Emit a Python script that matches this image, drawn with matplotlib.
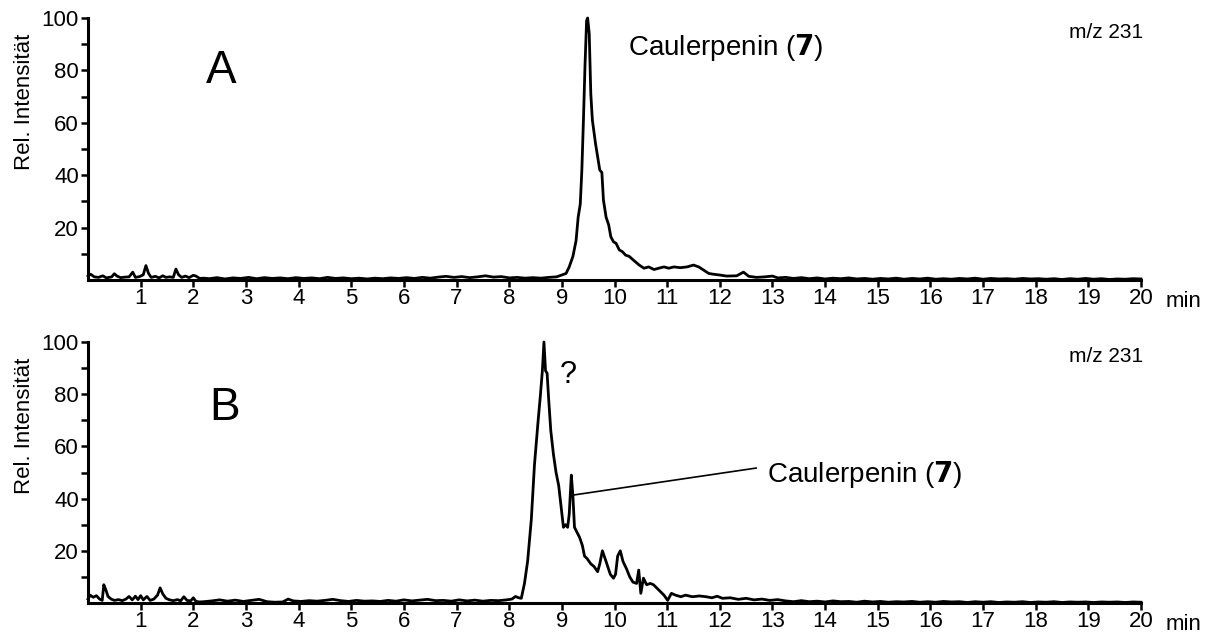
import matplotlib
matplotlib.use("Agg")
from matplotlib import pyplot as plt

plt.rcParams['font.family'] = ['Liberation Sans', 'DejaVu Sans']

# Chromatogram A (m/z 231), retention time in min / rel. intensity in %
time_a = [0.0, 0.05, 0.12, 0.2, 0.28, 0.35, 0.45, 0.5, 0.55, 0.62,
          0.7, 0.78, 0.85, 0.9, 0.98, 1.05, 1.1, 1.15, 1.2, 1.28,
          1.35, 1.42, 1.48, 1.55, 1.62, 1.67, 1.72, 1.78, 1.85, 1.92,
          2.0, 2.05, 2.12, 2.2, 2.3, 2.45, 2.6, 2.75, 2.9, 3.05,
          3.2, 3.35, 3.5, 3.65, 3.8, 3.95, 4.1, 4.25, 4.4, 4.55,
          4.7, 4.85, 5.0, 5.15, 5.3, 5.45, 5.6, 5.75, 5.9, 6.05,
          6.2, 6.35, 6.5, 6.65, 6.8, 6.95, 7.1, 7.25, 7.4, 7.55,
          7.7, 7.85, 8.0, 8.15, 8.3, 8.45, 8.6, 8.75, 8.9, 9.0,
          9.08, 9.14, 9.21, 9.27, 9.31, 9.35, 9.38, 9.41, 9.44, 9.47,
          9.49, 9.52, 9.55, 9.58, 9.64, 9.68, 9.72, 9.76, 9.79, 9.84,
          9.89, 9.93, 9.98, 10.03, 10.09, 10.15, 10.21, 10.28, 10.37, 10.47,
          10.56, 10.65, 10.75, 10.84, 10.94, 11.03, 11.13, 11.25, 11.38, 11.5,
          11.6, 11.69, 11.79, 11.88, 12.0, 12.13, 12.32, 12.45, 12.55, 12.7,
          12.85, 13.0, 13.1, 13.25, 13.4, 13.55, 13.7, 13.85, 14.0, 14.15,
          14.3, 14.45, 14.6, 14.75, 14.9, 15.05, 15.2, 15.35, 15.5, 15.65,
          15.8, 15.95, 16.1, 16.25, 16.4, 16.55, 16.7, 16.85, 17.0, 17.15,
          17.3, 17.45, 17.6, 17.75, 17.9, 18.05, 18.2, 18.35, 18.5, 18.65,
          18.8, 18.95, 19.1, 19.25, 19.4, 19.55, 19.7, 19.85, 20.0]
rel_a = [1.5, 2.2, 1.2, 1.0, 1.6, 0.8, 1.2, 2.4, 1.5, 0.9,
         1.1, 1.2, 3.0, 1.0, 1.3, 2.0, 5.5, 2.5, 1.0, 1.4,
         0.8, 1.6, 1.0, 1.2, 1.0, 4.2, 2.0, 1.0, 1.5, 0.9,
         1.8, 1.5, 0.6, 0.7, 0.5, 0.9, 0.4, 0.8, 0.6, 1.0,
         0.5, 0.9, 0.6, 0.8, 0.5, 0.9, 0.6, 0.8, 0.5, 1.0,
         0.6, 0.8, 0.5, 0.7, 0.4, 0.7, 0.5, 0.8, 0.6, 0.9,
         0.6, 1.0, 0.7, 1.1, 1.4, 1.0, 1.3, 0.9, 1.2, 1.6,
         1.1, 1.3, 0.8, 1.0, 0.7, 0.9, 0.7, 1.0, 1.2, 1.9,
         2.5, 5.0, 9.0, 15.0, 24.0, 29.0, 42.0, 61.0, 82.0, 99.0,
         100.0, 94.0, 71.0, 61.0, 52.0, 47.0, 42.0, 41.0, 30.5, 24.0,
         21.0, 16.5, 14.6, 14.0, 11.5, 10.8, 9.5, 9.0, 7.4, 5.7,
         4.5, 5.0, 4.0, 4.5, 5.0, 4.5, 5.0, 4.7, 5.0, 5.7,
         5.0, 3.8, 2.5, 2.2, 1.9, 1.5, 1.6, 3.0, 1.4, 1.0,
         1.2, 1.5, 0.8, 1.0, 0.6, 0.9, 0.5, 0.8, 0.4, 0.7,
         0.5, 0.8, 0.4, 0.6, 0.3, 0.6, 0.4, 0.7, 0.3, 0.6,
         0.4, 0.7, 0.3, 0.5, 0.3, 0.6, 0.4, 0.7, 0.3, 0.6,
         0.4, 0.5, 0.3, 0.6, 0.4, 0.5, 0.3, 0.5, 0.2, 0.5,
         0.3, 0.6, 0.3, 0.5, 0.2, 0.4, 0.3, 0.5, 0.4]

# Chromatogram B (m/z 231)
time_b = [0.0, 0.04, 0.1, 0.16, 0.22, 0.27, 0.3, 0.34, 0.38, 0.44,
          0.5, 0.58, 0.65, 0.72, 0.78, 0.84, 0.9, 0.95, 1.0, 1.05,
          1.12, 1.18, 1.25, 1.32, 1.37, 1.42, 1.48, 1.55, 1.62, 1.7,
          1.76, 1.82, 1.88, 1.95, 2.0, 2.05, 2.12, 2.2, 2.35, 2.5,
          2.65, 2.8, 2.95, 3.1, 3.25, 3.4, 3.55, 3.7, 3.8, 3.9,
          4.05, 4.2, 4.35, 4.5, 4.65, 4.8, 4.95, 5.1, 5.25, 5.4,
          5.55, 5.7, 5.85, 6.0, 6.15, 6.3, 6.45, 6.6, 6.75, 6.9,
          7.05, 7.2, 7.35, 7.5, 7.65, 7.8, 7.95, 8.05, 8.12, 8.18,
          8.23, 8.29, 8.35, 8.42, 8.48, 8.55, 8.59, 8.63, 8.66, 8.69,
          8.72, 8.75, 8.79, 8.84, 8.89, 8.94, 8.98, 9.03, 9.07, 9.11,
          9.14, 9.18, 9.21, 9.24, 9.29, 9.34, 9.39, 9.43, 9.48, 9.55,
          9.61, 9.68, 9.72, 9.77, 9.83, 9.87, 9.92, 9.98, 10.02, 10.06,
          10.11, 10.16, 10.23, 10.29, 10.35, 10.42, 10.46, 10.5, 10.55, 10.61,
          10.68, 10.74, 10.84, 10.94, 11.01, 11.08, 11.16, 11.26, 11.35, 11.48,
          11.61, 11.74, 11.85, 11.95, 12.05, 12.2, 12.35, 12.5, 12.65, 12.8,
          12.95, 13.1, 13.25, 13.4, 13.55, 13.7, 13.85, 14.0, 14.15, 14.3,
          14.45, 14.6, 14.75, 14.9, 15.05, 15.2, 15.35, 15.5, 15.65, 15.8,
          15.95, 16.1, 16.25, 16.4, 16.55, 16.7, 16.85, 17.0, 17.15, 17.3,
          17.45, 17.6, 17.75, 17.9, 18.05, 18.2, 18.35, 18.5, 18.65, 18.8,
          18.95, 19.1, 19.25, 19.4, 19.55, 19.7, 19.85, 20.0]
rel_b = [1.5, 3.0, 2.2, 2.8, 1.5, 1.0, 7.0, 5.0, 2.5, 1.5,
         1.0, 1.3, 0.9, 1.5, 2.5, 1.2, 2.6, 1.3, 2.8, 1.2,
         2.5, 1.0, 1.5, 3.0, 5.8, 3.5, 1.8, 1.2, 0.9, 1.3,
         0.8, 2.4, 1.0, 0.8, 2.0, 0.6, 0.4, 0.5, 0.8, 1.2,
         0.7, 1.1, 0.6, 1.0, 1.4, 0.5, 0.3, 0.4, 1.5, 0.8,
         0.6, 0.9, 0.7, 1.0, 1.4, 0.9, 0.6, 1.0, 0.7, 0.8,
         0.6, 1.0, 0.7, 1.2, 0.8, 1.1, 1.4, 0.9, 1.0, 0.7,
         1.2, 0.8, 1.1, 0.7, 1.0, 0.9, 1.2, 1.5, 2.5, 2.0,
         1.8, 7.5, 16.0, 32.0, 53.0, 70.0, 79.0, 89.0, 100.0, 89.0,
         88.0, 78.0, 66.0, 57.0, 50.0, 45.0, 38.0, 29.0, 30.0, 29.0,
         34.0, 49.0, 41.0, 29.0, 27.0, 25.0, 22.0, 18.0, 17.0, 15.0,
         14.0, 12.0, 15.0, 20.0, 16.5, 14.0, 11.0, 9.5, 11.0, 18.0,
         20.0, 16.0, 13.0, 10.0, 8.0, 7.5, 12.6, 3.7, 9.5, 7.0,
         7.5, 7.0, 5.0, 3.0, 1.0, 3.7, 3.0, 2.4, 3.0, 2.4,
         2.7, 2.4, 2.0, 2.6, 1.8, 2.0, 1.4, 1.8, 1.2, 1.5,
         1.0, 1.3, 0.8, 0.5, 0.9, 0.5, 0.7, 0.4, 0.8, 0.5,
         0.6, 0.3, 0.7, 0.4, 0.6, 0.3, 0.5, 0.4, 0.6, 0.3,
         0.5, 0.3, 0.6, 0.4, 0.5, 0.2, 0.5, 0.3, 0.5, 0.2,
         0.4, 0.3, 0.5, 0.2, 0.4, 0.3, 0.5, 0.2, 0.4, 0.3,
         0.4, 0.2, 0.4, 0.3, 0.4, 0.2, 0.4, 0.3]

x_ticks = list(range(1, 21))
y_major = [20, 40, 60, 80, 100]
y_minor = [10, 30, 50, 70, 90]

W, H = 1214, 633


def draw_panel(ax, t, y, letter):
    ax.plot(t, y, color='black', lw=2.0, clip_on=False, solid_joinstyle='round')
    ax.set_xlim(0, 20)
    ax.set_ylim(0, 100)
    for side in ('top', 'right'):
        ax.spines[side].set_visible(False)
    for side in ('left', 'bottom'):
        ax.spines[side].set_linewidth(2.2)
    ax.set_xticks(x_ticks)
    ax.set_xticklabels([str(v) for v in x_ticks])
    ax.set_yticks(y_major)
    ax.set_yticks(y_minor, minor=True)
    ax.tick_params(axis='both', which='both', direction='out', length=5, width=1.8,
                   labelsize=16, color='black')
    ax.tick_params(axis='x', pad=1)
    ax.tick_params(axis='y', pad=1.5)
    ax.set_ylabel('Rel. Intensität', fontsize=16)
    ax.yaxis.set_label_coords(-0.05, 0.68)
    ax.text(20.47, -0.103, 'min', transform=ax.get_xaxis_transform(),
            fontsize=16, ha='left', va='baseline')
    ax.text(18.63, 92.4, 'm/z 231', fontsize=15, ha='left', va='baseline')


fig = plt.figure(figsize=(W / 100, H / 100), dpi=100)
ax_a = fig.add_axes([88 / W, 353 / H, 1053 / W, 262 / H])
ax_b = fig.add_axes([88 / W, 30 / H, 1053 / W, 261 / H])

draw_panel(ax_a, time_a, rel_a, 'A')
draw_panel(ax_b, time_b, rel_b, 'B')

# Beschriftungen
ax_a.text(2.53, 75.2, 'A', fontsize=33, ha='center', va='baseline')
ax_a.text(10.26, 85.9, r'Caulerpenin ($\mathbf{7}$)', fontsize=20, ha='left', va='baseline')

ax_b.text(2.60, 70.1, 'B', fontsize=33, ha='center', va='baseline')
ax_b.text(9.12, 84.3, '?', fontsize=22, ha='center', va='baseline')
ax_b.text(12.90, 46.4, r'Caulerpenin ($\mathbf{7}$)', fontsize=20, ha='left', va='baseline')
ax_b.plot([9.23, 12.69], [41.4, 51.7], color='black', lw=1.2)

fig.savefig('out.png', dpi=100)
plt.close(fig)
